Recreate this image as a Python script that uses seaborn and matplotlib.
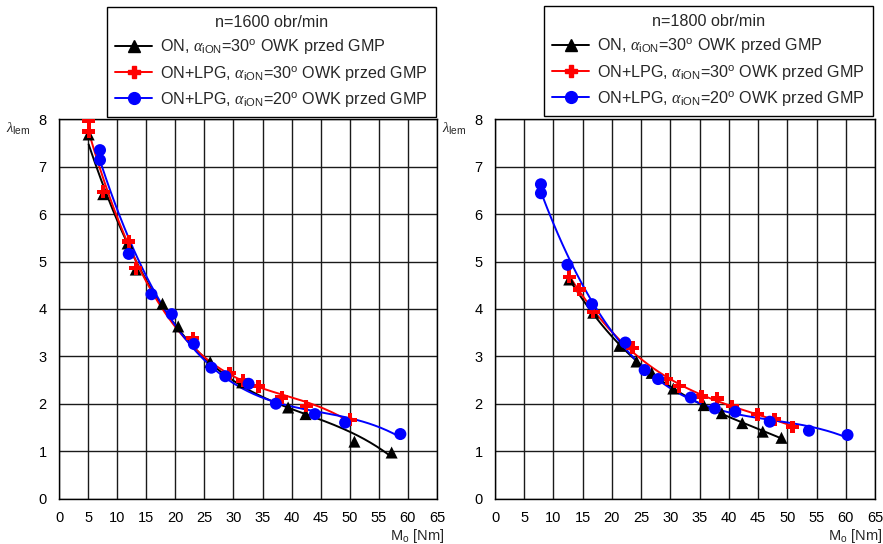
import numpy as np
import pandas as pd
import matplotlib
matplotlib.use("Agg")
import matplotlib.pyplot as plt
from matplotlib.lines import Line2D
import seaborn as sns

# ---- measured data: lambda_lem vs. torque M_o ----
# n = 1600 rpm
on_1600_x = [5.1, 7.6, 11.8, 13.2, 17.8, 20.5, 26.0, 31.5, 39.4, 42.4, 50.8, 57.2]
on_1600_y = [7.68, 6.42, 5.38, 4.83, 4.11, 3.63, 2.88, 2.45, 1.92, 1.78, 1.20, 0.97]
lpg30_1600_x = [5.1, 5.1, 7.6, 12.0, 13.2, 23.0, 29.3, 31.6, 34.3, 38.3, 42.5, 50.1]
lpg30_1600_y = [7.97, 7.74, 6.47, 5.42, 4.86, 3.38, 2.64, 2.49, 2.37, 2.13, 1.95, 1.66]
lpg20_1600_x = [7.05, 7.05, 12.0, 15.9, 19.4, 23.2, 26.2, 28.6, 32.6, 37.3, 44.0, 49.2, 58.7]
lpg20_1600_y = [7.35, 7.14, 5.16, 4.31, 3.89, 3.26, 2.76, 2.58, 2.42, 2.00, 1.78, 1.60, 1.36]

# n = 1800 rpm
on_1800_x = [12.7, 16.8, 21.3, 24.2, 26.8, 30.5, 35.7, 38.8, 42.3, 45.8, 49.0]
on_1800_y = [4.62, 3.92, 3.22, 2.89, 2.65, 2.32, 1.97, 1.80, 1.59, 1.41, 1.28]
lpg30_1800_x = [12.7, 14.4, 16.8, 23.5, 29.4, 31.5, 35.3, 38.0, 40.6, 44.9, 47.8, 50.9]
lpg30_1800_y = [4.68, 4.41, 3.94, 3.18, 2.52, 2.37, 2.15, 2.11, 1.95, 1.78, 1.67, 1.51]
lpg20_1800_x = [7.86, 7.86, 12.4, 16.6, 22.3, 25.6, 27.9, 33.5, 37.6, 41.1, 47.0, 53.7, 60.3]
lpg20_1800_y = [6.63, 6.44, 4.93, 4.10, 3.29, 2.71, 2.52, 2.13, 1.90, 1.83, 1.62, 1.43, 1.34]

series_labels = [
    r"ON, $\alpha_{\mathregular{iON}}$=30$^{\mathregular{o}}$ OWK przed GMP",
    r"ON+LPG, $\alpha_{\mathregular{iON}}$=30$^{\mathregular{o}}$ OWK przed GMP",
    r"ON+LPG, $\alpha_{\mathregular{iON}}$=20$^{\mathregular{o}}$ OWK przed GMP",
]
panel_titles = ["n=1600 obr/min", "n=1800 obr/min"]
x_ticks = list(range(0, 70, 5))
y_ticks = list(range(0, 9))

sns.set_theme(style="white")
plt.rcParams["font.family"] = ["Liberation Sans", "DejaVu Sans"]
plt.rcParams["mathtext.fontset"] = "custom"
plt.rcParams["mathtext.rm"] = "Liberation Sans"
plt.rcParams["mathtext.it"] = "Liberation Serif:italic"

colors = ["black", "red", "blue"]
markers = ["^", "P", "o"]
msizes = [75, 85, 75]

fig = plt.figure(figsize=(8.83, 5.44), dpi=100)
ax_l = fig.add_axes([59 / 883, 45.5 / 544, 378 / 883, 379.2 / 544])
ax_r = fig.add_axes([495 / 883, 45.5 / 544, 380 / 883, 379.2 / 544])

panels = [
    (ax_l, [(on_1600_x, on_1600_y), (lpg30_1600_x, lpg30_1600_y), (lpg20_1600_x, lpg20_1600_y)]),
    (ax_r, [(on_1800_x, on_1800_y), (lpg30_1800_x, lpg30_1800_y), (lpg20_1800_x, lpg20_1800_y)]),
]


def trend(x, y, deg=3):
    """Polynomial trend line through the measured points."""
    coef = np.polyfit(np.asarray(x), np.asarray(y), deg)
    xs = np.linspace(min(x), max(x), 200)
    return xs, np.polyval(coef, xs)


legend_anchor = [(436 / 883, 1 - 7 / 544), (873 / 883, 1 - 6 / 544)]

for i, (ax, data) in enumerate(panels):
    for (x, y), c, m, s in zip(data, colors, markers, msizes):
        xs, ys = trend(x, y, 3)
        sns.lineplot(x=xs, y=ys, ax=ax, color=c, lw=1.4, zorder=3)
        sns.scatterplot(x=x, y=y, ax=ax, color=c, marker=m, s=s,
                        edgecolor="none", zorder=4)
    ax.set_xlim(0, 65)
    ax.set_ylim(0, 8)
    ax.set_xticks(x_ticks)
    ax.set_yticks(y_ticks)
    ax.grid(True, color="#1a1a1a", lw=1.0)
    ax.set_axisbelow(True)
    for sp in ax.spines.values():
        sp.set_color("black")
        sp.set_linewidth(1.0)
    ax.tick_params(axis="both", length=0, labelsize=10.5, colors="black", pad=9)
    ax.set_xlabel("")
    ax.set_ylabel("")
    ax.text(1.02, -0.1, r"M$_{\mathregular{o}}$ [Nm]", transform=ax.transAxes,
            ha="right", va="center", fontsize=10.5)
    ax.text(-0.075, 0.975, r"$\lambda_{\mathregular{lem}}$", transform=ax.transAxes,
            ha="right", va="center", fontsize=10.5)

    handles = [Line2D([0], [0], color=c, marker=m, markersize=8.5, lw=1.4,
                      markeredgecolor=c)
               for c, m in zip(colors, markers)]
    leg = fig.legend(handles, series_labels, title=panel_titles[i],
                     loc="upper right", bbox_to_anchor=legend_anchor[i],
                     bbox_transform=fig.transFigure, borderaxespad=0,
                     fontsize=11.6, title_fontsize=11.6, frameon=True,
                     fancybox=False, edgecolor="black", framealpha=1,
                     handlelength=2.3, handletextpad=0.5, labelspacing=0.45,
                     borderpad=0.5)
    leg.get_frame().set_linewidth(1.0)

fig.savefig("out.png", dpi=100)
